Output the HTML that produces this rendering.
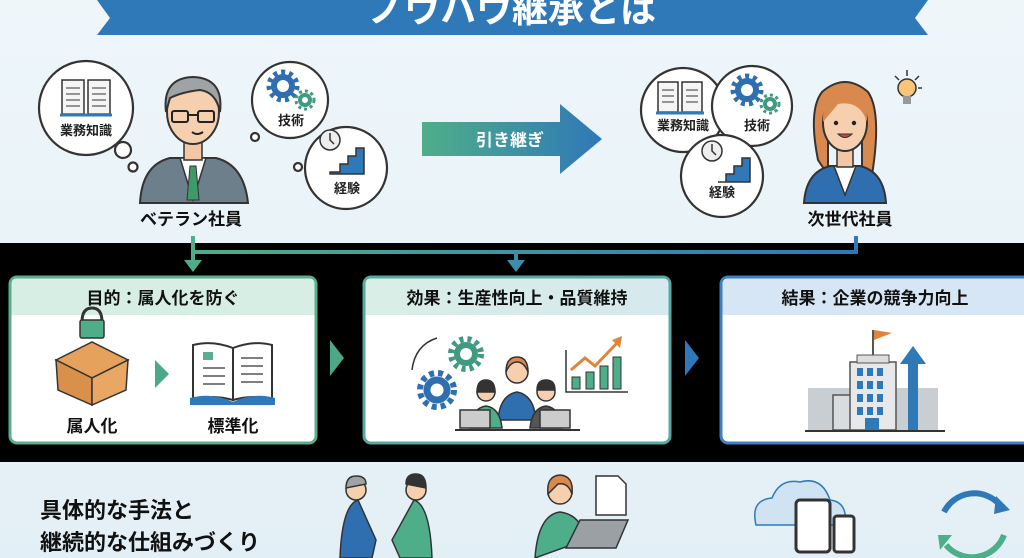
<!DOCTYPE html>
<html><head><meta charset="utf-8"><style>
html,body{margin:0;padding:0}
body{width:1024px;height:558px;overflow:hidden;position:relative;background:#eaf3f8;font-family:"Liberation Sans","Noto Sans CJK JP",sans-serif}
svg{position:absolute;left:0;top:0}
text{font-family:"Liberation Sans","Noto Sans CJK JP",sans-serif;font-weight:bold}
</style></head><body>
<svg width="1024" height="558" viewBox="0 0 1024 558">
<defs>
<linearGradient id="bg" x1="0" y1="0" x2="0" y2="1"><stop offset="0" stop-color="#eef6fa"/><stop offset="1" stop-color="#e3eff6"/></linearGradient>
<linearGradient id="ga" x1="0" x2="1"><stop offset="0" stop-color="#4fae8a"/><stop offset="1" stop-color="#2f78b8"/></linearGradient>
<linearGradient id="h2" x1="0" x2="1"><stop offset="0" stop-color="#d8eee6"/><stop offset="1" stop-color="#d6e9ee"/></linearGradient>
</defs>
<rect width="1024" height="558" fill="url(#bg)"/>
<!-- banner -->
<polygon points="97,0 928,0 915,18 928,35 97,35 110,18" fill="#2f79b8"/>
<text x="512" y="22" font-size="36" fill="#fff" text-anchor="middle">ノウハウ継承とは</text>

<!-- bubbles -->
<g fill="#fff" stroke="#333" stroke-width="2.2">
<circle cx="86" cy="108" r="47"/><circle cx="123" cy="150" r="8"/><circle cx="133" cy="167" r="4.5"/>
<circle cx="290" cy="100" r="38"/><circle cx="255" cy="137" r="4"/>
<circle cx="346" cy="168" r="41"/><circle cx="298" cy="167" r="4"/>
<circle cx="683" cy="110" r="42"/><circle cx="752" cy="106" r="40"/><circle cx="722" cy="176" r="41"/>
</g>
<g stroke="#333" stroke-width="1.5" fill="#f5f5f5">
<path d="M62,80 h22 v34 h-22z M88,80 h22 v34 h-22z"/><path d="M60,115 h52" stroke="#2f79b8" stroke-width="3"/>
<path d="M658,82 h20 v30 h-20z M682,82 h20 v30 h-20z"/><path d="M656,113 h48" stroke="#2f79b8" stroke-width="3"/>
</g>
<g stroke="#333" stroke-width="1"><path d="M66,88h14M66,94h14M66,100h14M66,106h14M92,88h14M92,94h14M92,100h14M92,106h14M662,90h12M662,96h12M662,102h12M686,90h12M686,96h12M686,102h12"/></g>
<g fill="none">
<circle cx="283" cy="86" r="9" stroke="#2f6fb0" stroke-width="6"/><circle cx="283" cy="86" r="14" stroke="#2f6fb0" stroke-width="5" stroke-dasharray="4 4"/>
<circle cx="305" cy="100" r="5" stroke="#3f9a80" stroke-width="4"/><circle cx="305" cy="100" r="9" stroke="#3f9a80" stroke-width="3" stroke-dasharray="3 3"/>
<circle cx="747" cy="90" r="9" stroke="#2f6fb0" stroke-width="6"/><circle cx="747" cy="90" r="14" stroke="#2f6fb0" stroke-width="5" stroke-dasharray="4 4"/>
<circle cx="770" cy="104" r="5" stroke="#3f9a80" stroke-width="4"/><circle cx="770" cy="104" r="9" stroke="#3f9a80" stroke-width="3" stroke-dasharray="3 3"/>
</g>
<g stroke="#333" stroke-width="1.5">
<circle cx="330" cy="140" r="10" fill="#eee"/><path d="M330,133v7l4,4" fill="none"/>
<path d="M330,172 h10 v-8 h8 v-8 h8 v-8 h8 v26 h-34z" fill="#2f79b8"/>
<circle cx="712" cy="151" r="10" fill="#eee"/><path d="M712,144v7l4,4" fill="none"/>
<path d="M718,182 h8 v-8 h8 v-8 h8 v-8 h8 v24 h-32z" fill="#2f79b8"/>
</g>
<g font-size="13" fill="#222" text-anchor="middle">
<text x="86" y="135">業務知識</text><text x="291" y="125">技術</text><text x="347" y="193">経験</text>
<text x="683" y="130">業務知識</text><text x="757" y="130">技術</text><text x="722" y="197">経験</text>
</g>

<!-- veteran -->
<path d="M140,203 Q142,165 170,158 L216,158 Q244,165 248,203z" fill="#6d7f8a" stroke="#333" stroke-width="2"/>
<path d="M180,158 L193,200 L206,158z" fill="#fff" stroke="#333" stroke-width="1.5"/>
<path d="M190,166 L196,166 L199,200 L187,200z" fill="#3f9a6a" stroke="#333" stroke-width="1"/>
<rect x="184" y="138" width="18" height="22" fill="#f3c7a6" stroke="#333" stroke-width="1.5"/>
<ellipse cx="193" cy="112" rx="26" ry="32" fill="#f6cfae" stroke="#333" stroke-width="2"/>
<path d="M166,112 Q162,78 193,77 Q224,78 220,112 Q216,92 200,90 Q182,92 170,98z" fill="#9ea3a6" stroke="#333" stroke-width="2"/>
<g fill="none" stroke="#222" stroke-width="2"><rect x="172" y="111" width="16" height="11" rx="2"/><rect x="198" y="111" width="16" height="11" rx="2"/><path d="M188,115h10M192,132 Q197,136 203,132"/></g>

<!-- woman -->
<path d="M818,160 Q808,110 822,92 Q845,72 868,92 Q882,112 872,175 L862,175 L862,130 L828,130 L828,175z" fill="#d9884e" stroke="#333" stroke-width="2"/>
<path d="M804,203 Q806,172 830,166 L860,166 Q884,172 886,203z" fill="#2f6fb0" stroke="#333" stroke-width="2"/>
<path d="M834,166 L845,195 L856,166z" fill="#fff" stroke="#333" stroke-width="1.5"/>
<rect x="837" y="145" width="16" height="22" fill="#f3c7a6" stroke="#333" stroke-width="1.5"/>
<ellipse cx="845" cy="123" rx="22" ry="28" fill="#f6cfae" stroke="#333" stroke-width="2"/>
<path d="M823,122 Q822,92 845,90 Q868,92 867,122 Q860,100 838,104z" fill="#d9884e"/>
<g fill="#222"><circle cx="836" cy="123" r="2.2"/><circle cx="854" cy="123" r="2.2"/></g>
<path d="M838,134 Q845,141 852,134z" fill="#c44" stroke="#333" stroke-width="1"/>
<circle cx="907" cy="88" r="9" fill="#f8c57a" stroke="#333" stroke-width="1.5"/><rect x="903" y="96" width="8" height="8" fill="#999"/>
<g stroke="#333" stroke-width="1.5"><path d="M907,70v6M895,76l4,4M919,76l-4,4M922,88h-4"/></g>

<g font-size="17" fill="#111" text-anchor="middle"><text x="191" y="225">ベテラン社員</text><text x="850" y="225">次世代社員</text></g>
<polygon points="422,122 560,122 560,104 602,139 560,174 560,156 422,156" fill="url(#ga)"/>
<text x="510" y="146" font-size="17" fill="#fff" text-anchor="middle" font-weight="normal">引き継ぎ</text>

<!-- black band -->
<rect x="0" y="243" width="1024" height="219" fill="#000"/>
<path d="M193,236 V252 H856 V236" fill="none" stroke="url(#ga)" stroke-width="4"/>
<path d="M193,252 V262" stroke="#4fae8a" stroke-width="4"/><polygon points="184,260 202,260 193,272" fill="#4fae8a"/>
<path d="M516,252 V262" stroke="#3b8faa" stroke-width="4"/><polygon points="507,260 525,260 516,272" fill="#3b8faa"/>

<rect x="10" y="277" width="306" height="166" rx="7" fill="#fff" stroke="#5aae8e" stroke-width="3"/>
<path d="M11.5,315 V284 Q11.5,278.5 17,278.5 H309 Q314.5,278.5 314.5,284 V315z" fill="#d6eee3"/>
<rect x="364" y="277" width="306" height="166" rx="7" fill="#fff" stroke="#55a9a0" stroke-width="3"/>
<path d="M365.5,315 V284 Q365.5,278.5 371,278.5 H663 Q668.5,278.5 668.5,284 V315z" fill="url(#h2)"/>
<rect x="721" y="277" width="310" height="166" rx="7" fill="#fff" stroke="#3a80c2" stroke-width="3"/>
<path d="M722.5,315 V284 Q722.5,278.5 728,278.5 H1030 V315z" fill="#d7e6f4"/>
<g font-size="17" fill="#111" text-anchor="middle">
<text x="163" y="304">目的：属人化を防ぐ</text><text x="517" y="304">効果：生産性向上・品質維持</text><text x="875" y="304">結果：企業の競争力向上</text>
</g>
<polygon points="330,340 344,358 330,376" fill="#49a98a"/>
<polygon points="685,340 699,358 685,376" fill="#2f79b8"/>

<path d="M82,322 Q82,308 92,308 Q102,308 102,322" fill="none" stroke="#333" stroke-width="3"/>
<rect x="80" y="320" width="24" height="18" rx="2" fill="#4fae8a" stroke="#333" stroke-width="1.5"/>
<polygon points="56,360 92,342 128,360 92,378" fill="#e6a15c" stroke="#333" stroke-width="1.5"/>
<polygon points="56,360 92,378 92,405 58,390" fill="#d9904a" stroke="#333" stroke-width="1.5"/>
<polygon points="128,360 92,378 92,405 126,390" fill="#e8a864" stroke="#333" stroke-width="1.5"/>
<polygon points="155,360 169,374 155,388" fill="#49a98a"/>
<path d="M193,345 Q212,340 233,348 V400 Q212,394 193,400z M233,348 Q254,340 272,345 V400 Q254,394 233,400z" fill="#fff" stroke="#333" stroke-width="2"/>
<path d="M190,398 Q212,392 233,402 Q254,392 275,398 V405 H190z" fill="#2f79b8"/>
<rect x="203" y="352" width="10" height="8" fill="#5aae8e"/>
<g stroke="#333" stroke-width="1.3"><path d="M203,368h22M203,376h22M203,384h22M241,358h22M241,366h22M241,374h22M241,382h22"/></g>
<g font-size="17" fill="#111" text-anchor="middle"><text x="92" y="432">属人化</text><text x="233" y="432">標準化</text></g>

<g fill="none">
<circle cx="466" cy="354" r="9" stroke="#3f9a80" stroke-width="6"/><circle cx="466" cy="354" r="15" stroke="#3f9a80" stroke-width="6" stroke-dasharray="4 4"/>
<circle cx="437" cy="390" r="10" stroke="#2f6fb0" stroke-width="7"/><circle cx="437" cy="390" r="17" stroke="#2f6fb0" stroke-width="6" stroke-dasharray="5 4"/>
<path d="M412,370 Q415,345 437,338" stroke="#333" stroke-width="1.5"/>
</g>
<g stroke="#333" stroke-width="1.5">
<path d="M498,420 Q500,395 517,392 Q534,395 536,420z" fill="#2f6fb0"/><circle cx="517" cy="372" r="11" fill="#f6cfae"/><path d="M506,372 Q506,357 517,357 Q528,357 528,372 Q524,362 517,362 Q510,362 506,372z" fill="#d9884e"/>
<path d="M470,428 Q472,408 486,406 Q500,408 502,428z" fill="#4fae8a"/><circle cx="486" cy="392" r="9" fill="#f6cfae"/><path d="M477,392 Q477,380 486,380 Q495,380 495,392z" fill="#333"/>
<path d="M530,428 Q532,408 546,406 Q560,408 562,428z" fill="#555"/><circle cx="546" cy="392" r="9" fill="#f6cfae"/><path d="M537,390 Q537,380 546,380 Q555,380 555,390z" fill="#333"/>
<rect x="460" y="410" width="30" height="18" fill="#ccc"/><rect x="540" y="410" width="30" height="18" fill="#ccc"/>
</g>
<path d="M455,430 H580" stroke="#333" stroke-width="2"/>
<path d="M566,350 V392 H628" fill="none" stroke="#333" stroke-width="1.5"/>
<g fill="#4fae8a" stroke="#333" stroke-width="1"><rect x="572" y="377" width="8" height="12"/><rect x="586" y="372" width="8" height="17"/><rect x="600" y="366" width="8" height="23"/><rect x="613" y="357" width="8" height="32"/></g>
<polyline points="571,370 585,358 595,366 618,342" fill="none" stroke="#e0843c" stroke-width="3"/>
<polygon points="612,340 622,336 620,348" fill="#e0843c"/>

<rect x="808" y="388" width="130" height="42" fill="#c8ced2"/>
<rect x="833" y="395" width="20" height="35" fill="#d8dcdf" stroke="#555" stroke-width="1.5"/>
<rect x="850" y="362" width="46" height="68" fill="#e6e8ea" stroke="#555" stroke-width="1.5"/>
<rect x="857" y="355" width="32" height="8" fill="#ddd" stroke="#555" stroke-width="1"/>
<path d="M873,355 V330" stroke="#555" stroke-width="2"/><polygon points="874,330 892,333 874,340" fill="#e0843c"/>
<g fill="#2f79b8"><rect x="857" y="368" width="6" height="8"/><rect x="867" y="368" width="6" height="8"/><rect x="877" y="368" width="6" height="8"/><rect x="857" y="381" width="6" height="8"/><rect x="867" y="381" width="6" height="8"/><rect x="877" y="381" width="6" height="8"/><rect x="857" y="394" width="6" height="8"/><rect x="867" y="394" width="6" height="8"/><rect x="877" y="394" width="6" height="8"/><rect x="857" y="407" width="6" height="8"/><rect x="867" y="407" width="6" height="8"/><rect x="877" y="407" width="6" height="8"/><rect x="865" y="418" width="14" height="12"/></g>
<rect x="908" y="362" width="10" height="68" fill="#2f79b8"/><polygon points="900,364 913,346 926,364" fill="#2f79b8"/>
<path d="M805,431 H945" stroke="#333" stroke-width="2"/>

<g font-size="22" fill="#111"><text x="40" y="518">具体的な手法と</text><text x="40" y="550">継続的な仕組みづくり</text></g>
<g stroke="#333" stroke-width="1.5">
<path d="M340,558 Q342,505 358,500 L376,540 L372,558z" fill="#2f6fb0"/><circle cx="356" cy="490" r="10" fill="#f6cfae"/><path d="M346,488 Q346,476 356,476 Q366,476 366,484z" fill="#9ea3a6"/>
<path d="M432,558 Q430,505 414,500 L392,540 L400,558z" fill="#4fae8a"/><circle cx="416" cy="490" r="10" fill="#f6cfae"/><path d="M406,484 Q406,474 416,474 Q426,474 426,488z" fill="#333"/>
<path d="M535,558 Q538,515 560,512 Q582,515 585,540z" fill="#4fae8a"/><circle cx="560" cy="492" r="12" fill="#f6cfae"/><path d="M548,494 Q546,476 560,475 Q574,476 572,494 Q568,482 558,484z" fill="#d9884e"/>
<path d="M596,476 H618 L626,484 V515 H596z" fill="#fff"/>
<path d="M566,548 L580,520 H628 L616,548z" fill="#9aa0a4"/>
<path d="M756,525 Q750,500 772,498 Q780,478 800,482 Q822,476 830,500 Q848,502 845,525z" fill="#cfe3f3" stroke="#2f79b8"/>
<rect x="796" y="500" width="34" height="52" rx="4" fill="#fff" stroke="#333" stroke-width="3"/>
<rect x="834" y="516" width="20" height="36" rx="3" fill="#fff" stroke="#333" stroke-width="3"/>
</g>
<path d="M944,512 A34,34 0 0 1 1000,505" fill="none" stroke="#2f79b8" stroke-width="6"/>
<polygon points="996,496 1010,510 994,514" fill="#2f79b8"/>
<path d="M1004,535 A34,34 0 0 1 946,545" fill="none" stroke="#4fae8a" stroke-width="6"/>
<polygon points="938,535 952,535 940,550" fill="#4fae8a"/>
</svg>
</body></html>
